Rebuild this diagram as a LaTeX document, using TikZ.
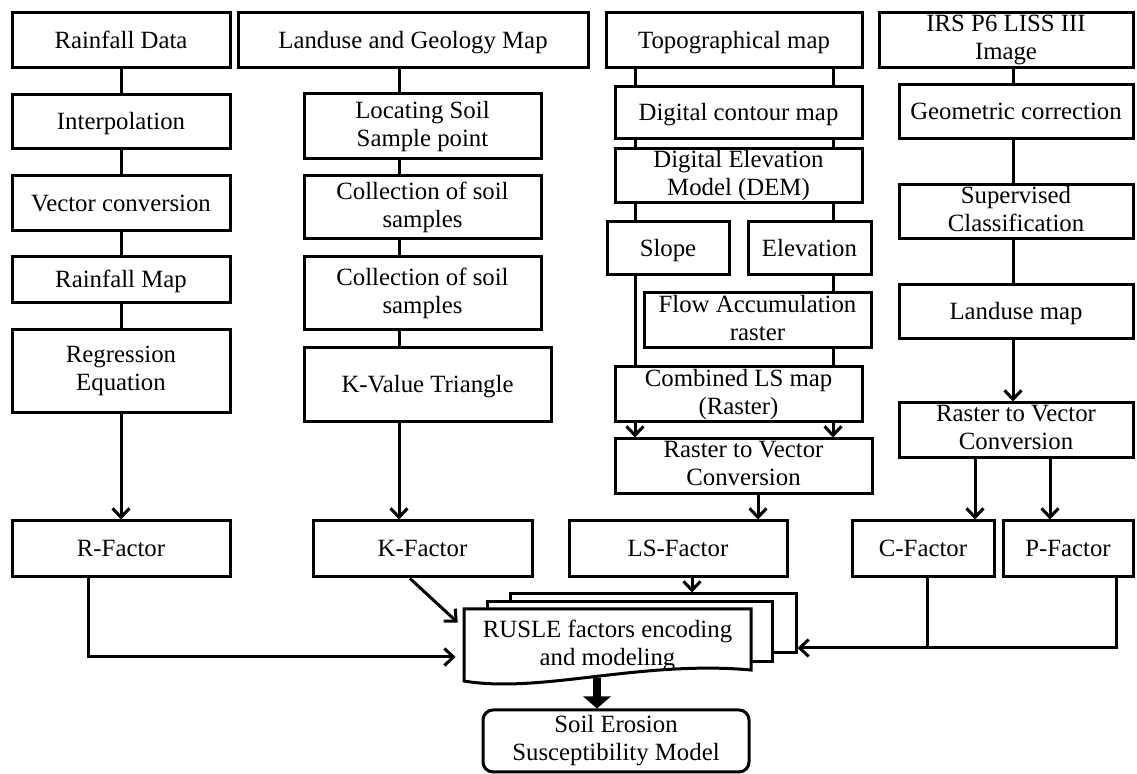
\documentclass[tikz,border=0pt]{standalone}
\usepackage{fontspec}
\setmainfont{Liberation Serif}
\usepackage{tikz}
\usetikzlibrary{arrows.meta,calc}
\newcommand\bstrut{\rule[-3pt]{0pt}{14pt}}

\begin{document}
\begin{tikzpicture}[x=0.5pt,y=-0.5pt,
    blk/.style 2 args={draw,line width=1.5pt,fill=white,inner sep=0pt,align=center,
      minimum width=#1*0.5pt,minimum height=#2*0.5pt,
      font=\fontsize{12.4}{14}\selectfont,
      execute at begin node=\bstrut,execute at end node=\bstrut},
    ln/.style={line width=1.5pt},
    arr/.style={line width=1.5pt,-{Straight Barb[length=4.5pt,width=8.5pt]}}]
  \useasboundingbox (0,0) rectangle (1137,774);

  % rainfall column
  \node[blk={218}{55}] (rain) at (121,40.5) {Rainfall Data};
  \node[blk={218}{54}] (interp) at (121,122) {Interpolation};
  \node[blk={218}{55}] (vect) at (121,203.5) {Vector conversion};
  \node[blk={218}{46}] (rmap) at (121,280) {Rainfall Map};
  \node[blk={218}{83}] (regr) at (121,371.5) {Regression\\Equation};
  \node[blk={218}{56}] (rfac) at (121,549) {R-Factor};

  % soil column
  \node[blk={350}{55}] (lgm) at (413,40.5) {Landuse and Geology Map};
  \node[blk={237}{65}] (locs) at (422.5,126.5) {Locating Soil\\Sample point};
  \node[blk={237}{63}] (coll1) at (422.5,207.5) {Collection of soil\\samples};
  \node[blk={237}{73}] (coll2) at (422.5,293.5) {Collection of soil\\samples};
  \node[blk={247}{74}] (kval) at (427.5,385) {K-Value Triangle};
  \node[blk={219}{56}] (kfac) at (422.5,549) {K-Factor};

  % topography column
  \node[blk={256}{55}] (topo) at (734,40.5) {Topographical map};
  \node[blk={247}{52}] (cont) at (738.5,113) {Digital contour map};
  \node[blk={247}{54}] (dem) at (738.5,176) {Digital Elevation\\Model (DEM)};
  \node[blk={122}{53}] (slope) at (668,248.5) {Slope};
  \node[blk={123}{53}] (elev) at (809.5,248.5) {Elevation};
  \node[blk={227}{55}] (flow) at (757.5,320.5) {Flow Accumulation\\raster};
  \node[blk={247}{55}] (comb) at (738.5,394.5) {Combined LS map\\(Raster)};
  \node[blk={257}{55}] (rtv1) at (743.5,466.5) {Raster to Vector\\Conversion};
  \node[blk={218}{56}] (lsfac) at (678,549) {LS-Factor};

  % image column
  \node[blk={254}{55}] (irs) at (1006,40.5) {IRS P6 LISS III\\Image};
  \node[blk={234}{54}] (geo) at (1016,112) {Geometric correction};
  \node[blk={234}{54}] (sup) at (1016,212) {Supervised\\Classification};
  \node[blk={234}{54}] (luse) at (1016,312) {Landuse map};
  \node[blk={234}{55}] (rtv2) at (1016,430.5) {Raster to Vector\\Conversion};
  \node[blk={142}{56}] (cfac) at (923,549) {C-Factor};
  \node[blk={130}{56}] (pfac) at (1068,549) {P-Factor};

  % lanes
  \coordinate (kx) at (399,0);
  \coordinate (lx) at (635,0);
  \coordinate (ex) at (833,0);
  \coordinate (lsx) at (758,0);
  \coordinate (ix) at (1013,0);
  \coordinate (cx) at (975,0);
  \coordinate (px) at (1050,0);
  \coordinate (rfx) at (88,0);
  \coordinate (kfx) at (410,0);
  \coordinate (lfx) at (692,0);
  \coordinate (cfx) at (927,0);
  \coordinate (pfx) at (1116,0);
  \coordinate (thx) at (597,0);
  \coordinate (ry) at (0,657);
  \coordinate (ky) at (0,628);
  \coordinate (cpy) at (0,648);

  % stacked documents
  \node[blk={286}{59}] (pg3) at (653,623.5) {};
  \node[blk={285}{60}] (pg2) at (629.5,632) {};
  \draw[ln,fill=white] (464,609) -- (751,609) -- (751,670)
    .. controls (640,660) and (540,694) .. (464,681) -- cycle;
  \node[inner sep=0pt,align=center,minimum width=143.5pt,minimum height=36.5pt,
    font=\fontsize{12.4}{14}\selectfont] (rusle) at (607.5,643.5)
    {\bstrut RUSLE factors encoding\\and modeling\bstrut};
  \node[blk={266}{62},rounded corners=5pt] (soil) at (616,741)
    {Soil Erosion\\Susceptibility Model};

  % connectors
  \draw[ln] (rain.south) -- (interp.north);
  \draw[ln] (interp.south) -- (vect.north);
  \draw[ln] (vect.south) -- (rmap.north);
  \draw[ln] (rmap.south) -- (regr.north);
  \draw[arr] (regr.south) -- (rfac.north);

  \draw[ln] (lgm.south -| kx) -- (locs.north -| kx);
  \draw[ln] (locs.south -| kx) -- (coll1.north -| kx);
  \draw[ln] (coll1.south -| kx) -- (coll2.north -| kx);
  \draw[ln] (coll2.south -| kx) -- (kval.north -| kx);
  \draw[arr] (kval.south -| kx) -- (kfac.north -| kx);

  \foreach \c in {lx,ex}{
    \draw[ln] (topo.south -| \c) -- (cont.north -| \c);
    \draw[ln] (cont.south -| \c) -- (dem.north -| \c);
    \draw[arr] (comb.south -| \c) -- (rtv1.north -| \c);
  }
  \draw[ln] (dem.south -| lx) -- (slope.north -| lx);
  \draw[ln] (dem.south -| ex) -- (elev.north -| ex);
  \draw[ln] (slope.south -| lx) -- (comb.north -| lx);
  \draw[ln] (elev.south -| ex) -- (flow.north -| ex);
  \draw[ln] (flow.south -| ex) -- (comb.north -| ex);
  \draw[arr] (rtv1.south -| lsx) -- (lsfac.north -| lsx);

  \draw[ln] (irs.south -| ix) -- (geo.north -| ix);
  \draw[ln] (geo.south -| ix) -- (sup.north -| ix);
  \draw[ln] (sup.south -| ix) -- (luse.north -| ix);
  \draw[arr] (luse.south -| ix) -- (rtv2.north -| ix);
  \draw[arr] (rtv2.south -| cx) -- (cfac.north -| cx);
  \draw[arr] (rtv2.south -| px) -- (pfac.north -| px);

  \draw[arr,shorten >=4pt] (rfac.south -| rfx) |- (rusle.west |- ry);
  \draw[arr,shorten >=4pt] (kfac.south -| kfx) -- (rusle.west |- ky);
  \draw[arr] (lsfac.south -| lfx) -- (pg3.north -| lfx);
  \draw[ln] (cfac.south -| cfx) -- (cfx |- cpy);
  \draw[arr] (pfac.south -| pfx) |- (pg3.east |- cpy);
  \draw[line width=4pt,-{Triangle[length=6pt,width=13.5pt]}]
    (thx |- 0,678) -- (soil.north -| thx);
\end{tikzpicture}
\end{document}
